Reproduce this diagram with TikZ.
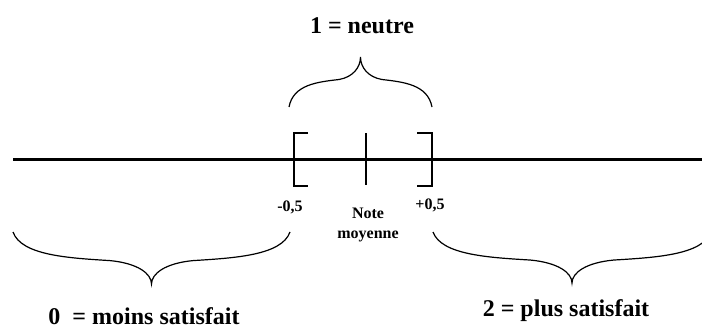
\documentclass[tikz,border=0pt]{standalone}
\usepackage{fontspec}
\setmainfont{Liberation Serif}
\usepackage{tikz}
\usetikzlibrary{positioning}

% accolade: x gauche, x droite, y des bouts, y de la pointe
\newcommand{\accolade}[4]{%
\draw[brace] (#1,#3)
 .. controls ({#1+0.03*(#2-#1)},{#3+0.45*(#4-#3)}) and ({#1+0.2*(#2-#1)},{#3+0.5*(#4-#3)}) .. ({#1+0.35*(#2-#1)},{#3+0.55*(#4-#3)})
 .. controls ({#1+0.45*(#2-#1)},{#3+0.6*(#4-#3)}) and ({#1+0.5*(#2-#1)},{#3+0.8*(#4-#3)}) .. ({#1+0.5*(#2-#1)},#4)
 .. controls ({#1+0.5*(#2-#1)},{#3+0.8*(#4-#3)}) and ({#1+0.55*(#2-#1)},{#3+0.6*(#4-#3)}) .. ({#1+0.65*(#2-#1)},{#3+0.55*(#4-#3)})
 .. controls ({#1+0.8*(#2-#1)},{#3+0.5*(#4-#3)}) and ({#1+0.97*(#2-#1)},{#3+0.45*(#4-#3)}) .. (#2,#3);}

\begin{document}
\begin{tikzpicture}[x=1pt, y=-1pt, font=\bfseries,
  axe/.style={line width=3pt},
  crochet/.style={line width=2.8pt},
  brace/.style={line width=1.2pt},
  big/.style={font=\fontsize{24}{28}\selectfont\bfseries},
  small/.style={font=\fontsize{16}{20}\selectfont\bfseries, align=center}]
\path[use as bounding box] (0,0) rectangle (702,329);
\clip (0,0) rectangle (702,329);
\coordinate (A) at (13,159);
\coordinate (B) at (702,159);
\draw[axe] (A) -- (B);
% crochets et note moyenne
\draw[crochet] (308,133) -- (294,133) -- (294,186) -- (308,186);
\draw[crochet] (417,133) -- (432,133) -- (432,186) -- (417,186);
\draw[crochet] (366,133) -- (366,185);
\node[small] (m05) at (290,207) {-0,5};
\node[small] (p05) at (430,205) {+0,5};
\node[small] (note) at (368,225) {Note\\moyenne};
% accolades
\accolade{289}{432}{107}{57}
\accolade{13}{290}{232}{284}
\accolade{433}{711}{232}{283}
\node[big] (neutre) at (362,26) {1 = neutre};
\node[big] (moins) at (144,316) {0\ \ = moins satisfait};
\node[big] (plus) at (566,311) {2 = plus satisfait};
\end{tikzpicture}
\end{document}
